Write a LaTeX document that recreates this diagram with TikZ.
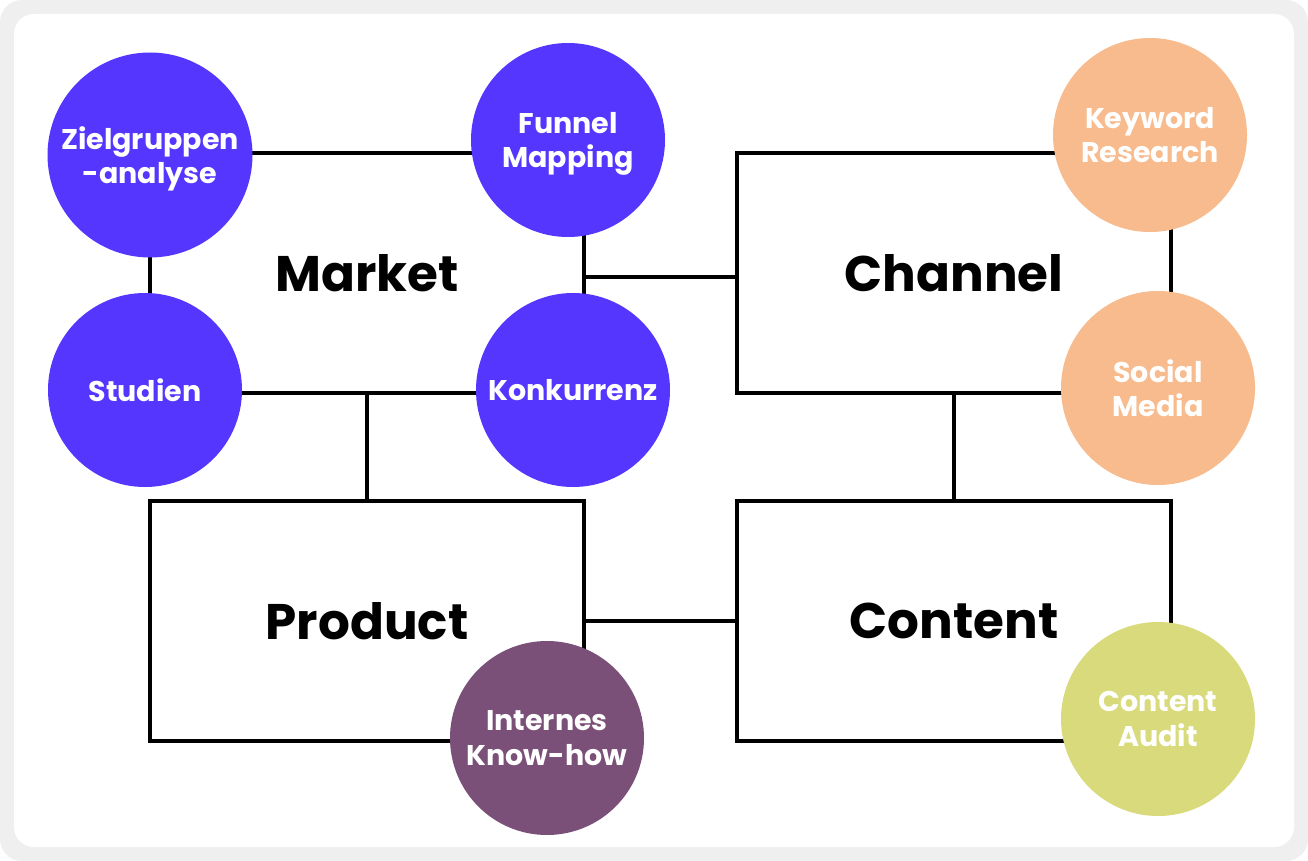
\documentclass[tikz,border=0pt]{standalone}
\usepackage{fontspec}
\setmainfont{Poppins}
\definecolor{bgout}{HTML}{EFEFEF}
\definecolor{cblue}{HTML}{5436FF}
\definecolor{corange}{HTML}{F7BB8E}
\definecolor{cpurple}{HTML}{7A5078}
\definecolor{colive}{HTML}{D9DA7C}
\tikzset{
  box/.style={draw=black, line width=4.2pt, minimum width=434pt, minimum height=240pt, inner sep=0pt,
    font=\fontsize{50}{58}\selectfont\bfseries},
  bubble/.style={circle, fill=#1, minimum size=194pt, inner sep=0pt, text=white, align=center,
    text depth=0pt, font=\fontsize{28.5}{34.5}\selectfont\bfseries},
  link/.style={draw=black, line width=4.2pt}
}
\begin{document}
\begin{tikzpicture}[x=1pt,y=-1pt]
\useasboundingbox (0,0) rectangle (1308,861);
\fill[white] (0,0) rectangle (1308,861);
\fill[bgout, rounded corners=22pt] (0,0) rectangle (1308,861);
\fill[white, rounded corners=20pt] (14,14) rectangle (1294,847);

\node[box] (market) at (367,273) {Market};
\node[box] (channel) at (954,273) {Channel};
\node[box] (product) at (367,621) {Product};
\node[box] (content) at (954,621) {Content};

\path[link] ([yshift=-4pt]market.east) -- ([yshift=-4pt]channel.west);
\path[link] (market.south) -- (product.north);
\path[link] (channel.south) -- (content.north);
\path[link] (product.east) -- (content.west);

\node[bubble=cblue, minimum size=205pt] (ziel) at (150,155) {Zielgruppen\\-analyse};
\node[bubble=cblue] (funnel) at (568,140) {Funnel\\Mapping};
\node[bubble=cblue] (studien) at (145,390) {Studien};
\node[bubble=cblue] (konk) at (573,390) {Konkurrenz};
\node[bubble=corange] (keyword) at (1150,135) {Keyword\\Research};
\node[bubble=corange] (social) at (1158,388) {Social\\Media};
\node[bubble=cpurple] (intern) at (547,738) {Internes\\Know-how};
\node[bubble=colive] (audit) at (1158,719) {Content\\Audit};
\end{tikzpicture}
\end{document}
